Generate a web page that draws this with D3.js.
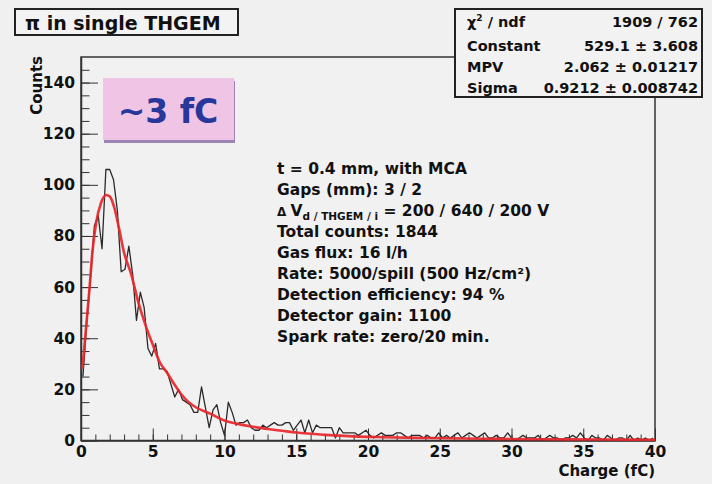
<!DOCTYPE html>
<html>
<head>
<meta charset="utf-8">
<script src="https://cdn.jsdelivr.net/npm/d3@7"></script>
<style>
  body { margin: 0; background: #f0f0f0; }
  text { font-family: "DejaVu Sans", sans-serif; font-weight: bold; fill: #111; }
</style>
</head>
<body>
<svg id="chart" width="712" height="484"></svg>
<script>
// histogram bin contents, 150 bins over 0..40 fC
const counts = [
  25, 46, 64, 84, 88, 75, 106, 106, 102, 90,
  66, 67, 76, 65, 47, 58, 52, 36, 33, 38,
  28, 28, 27, 22, 17, 20, 16, 15, 14, 11,
  11, 21, 13, 5, 12, 14, 7, 2, 15, 11,
  6, 7, 7, 8, 5, 4, 4, 6, 5, 6,
  7, 6, 6, 7, 7, 4, 6, 8, 3, 8,
  3, 6, 5, 5, 5, 5, 1, 5, 3, 3,
  3, 3, 2, 3, 4, 2, 1, 2, 3, 2,
  2, 2, 3, 3, 2, 1, 2, 2, 2, 1,
  2, 1, 1, 3, 1, 2, 1, 2, 3, 1,
  2, 3, 2, 1, 2, 3, 1, 1, 2, 1,
  1, 3, 1, 0, 1, 2, 1, 1, 1, 2,
  0, 1, 2, 1, 1, 0, 1, 1, 2, 1,
  3, 1, 0, 2, 1, 1, 0, 2, 1, 0,
  1, 1, 0, 2, 0, 1, 0, 1, 0, 1
];
const binRange = [0, 40];

// Landau fit curve
const fitX = [0.1, 0.35, 0.6, 0.8, 1.05, 1.4, 1.75, 2.0, 2.3, 2.65, 3.0, 3.5, 4.0, 4.5, 5.0, 5.5, 6.0, 6.5, 7.0, 7.5,
              8.0, 9.0, 10, 11, 12, 13, 14, 15, 17, 19, 21, 24, 28, 32, 36, 40];
const fitY = [28, 44, 60, 74, 85, 93, 96, 95.5, 91.5, 83, 73.5, 65, 54, 45, 37.5, 30.5, 26.5, 22, 18, 15,
              13, 10.5, 7.8, 6.4, 5.4, 4.5, 3.8, 3.1, 2.2, 1.6, 1.3, 1.0, 0.7, 0.5, 0.4, 0.3];

const xTicks = [0, 5, 10, 15, 20, 25, 30, 35, 40];
const yTicks = [0, 20, 40, 60, 80, 100, 120, 140];
const yMax = 150;

const statsLabels = ["Constant", "MPV", "Sigma"];
const statsValues = ["1909 / 762", "529.1 \u00b1 3.608", "2.062 \u00b1 0.01217", "0.9212 \u00b1 0.008742"];

const notes = [
  "t = 0.4 mm, with MCA",
  "Gaps (mm): 3 / 2",
  null, // delta V line, built with sub-script below
  "Total counts: 1844",
  "Gas flux: 16 l/h",
  "Rate: 5000/spill (500 Hz/cm\u00b2)",
  "Detection efficiency: 94 %",
  "Detector gain: 1100",
  "Spark rate: zero/20 min."
];

const W = 712, H = 484;
const frame = {left: 81, right: 655, top: 57, bottom: 440.5};

let svg = d3.select("#chart");

svg.append("rect").attr("x", 0).attr("y", 0).attr("width", W).attr("height", H).attr("fill", "#f0f0f0");

let x = d3.scaleLinear().domain(binRange).range([frame.left, frame.right]);
let y = d3.scaleLinear().domain([0, yMax]).range([frame.bottom, frame.top]);

// frame
svg.append("rect")
   .attr("x", frame.left).attr("y", frame.top)
   .attr("width", frame.right - frame.left).attr("height", frame.bottom - frame.top)
   .attr("fill", "#f1f1f1")
   .attr("stroke", "#333").attr("stroke-width", 1.5);

// x axis: minor then major ticks, drawn inside the frame
svg.append("g")
   .attr("transform", "translate(0," + frame.bottom + ")")
   .call(d3.axisBottom(x).tickValues(d3.range(0, 41, 1)).tickSizeInner(-6).tickSizeOuter(0).tickFormat(""))
   .call(g => g.select(".domain").remove())
   .selectAll("line").attr("stroke", "#333");

let xAxis = svg.append("g")
   .attr("transform", "translate(0," + frame.bottom + ")")
   .call(d3.axisBottom(x).tickValues(xTicks).tickSizeInner(-12).tickSizeOuter(0).tickPadding(5).tickFormat(d3.format("d")));
xAxis.select(".domain").attr("stroke", "#333").attr("stroke-width", 1.5);
xAxis.selectAll("line").attr("stroke", "#333");
xAxis.selectAll("text").attr("font-size", "15.5px").attr("fill", "#111")
     .style("font-family", "DejaVu Sans").style("font-weight", "bold");

// y axis
svg.append("g")
   .attr("transform", "translate(" + frame.left + ",0)")
   .call(d3.axisLeft(y).tickValues(d3.range(0, yMax, 5)).tickSizeInner(-8.5).tickSizeOuter(0).tickFormat(""))
   .call(g => g.select(".domain").remove())
   .selectAll("line").attr("stroke", "#333");

let yAxis = svg.append("g")
   .attr("transform", "translate(" + frame.left + ",0)")
   .call(d3.axisLeft(y).tickValues(yTicks).tickSizeInner(-17).tickSizeOuter(0).tickPadding(6).tickFormat(d3.format("d")));
yAxis.select(".domain").attr("stroke", "#333").attr("stroke-width", 1.5);
yAxis.selectAll("line").attr("stroke", "#333");
yAxis.selectAll("text").attr("font-size", "15.5px").attr("fill", "#111")
     .style("font-family", "DejaVu Sans").style("font-weight", "bold");

// axis titles
svg.append("text")
   .attr("transform", "translate(42," + (frame.top - 1) + ") rotate(-90)")
   .attr("text-anchor", "end")
   .attr("font-size", "15px")
   .text("Counts");

svg.append("text")
   .attr("x", frame.right).attr("y", 476)
   .attr("text-anchor", "end")
   .attr("font-size", "15px")
   .text("Charge (fC)");

// histogram as polyline through bin centres
let binW = (binRange[1] - binRange[0]) / counts.length;
let histLine = d3.line()
   .x((d, i) => x(binRange[0] + (i + 0.5) * binW))
   .y(d => y(d));

svg.append("path")
   .datum(counts)
   .attr("d", histLine)
   .attr("fill", "none")
   .attr("stroke", "#2b2b2b")
   .attr("stroke-width", 1.3)
   .attr("stroke-linejoin", "round");

// fit
let fitLine = d3.line()
   .x(d => x(d[0]))
   .y(d => y(d[1]))
   .curve(d3.curveMonotoneX);

svg.append("path")
   .datum(fitX.map((v, i) => [v, fitY[i]]))
   .attr("d", fitLine)
   .attr("fill", "none")
   .attr("stroke", "#e8262b")
   .attr("stroke-width", 2.6)
   .attr("stroke-opacity", 0.92);

// title box
svg.append("rect")
   .attr("x", 15).attr("y", 9).attr("width", 223).attr("height", 26)
   .attr("fill", "#f3f3f3").attr("stroke", "#222").attr("stroke-width", 2);
svg.append("text")
   .attr("x", 25).attr("y", 30)
   .attr("font-size", "19px")
   .text("\u03c0 in single THGEM");

// stats box
let stats = svg.append("g");
stats.append("rect")
   .attr("x", 455).attr("y", 9).attr("width", 247).attr("height", 88)
   .attr("fill", "#f2f2f2").attr("stroke", "#222").attr("stroke-width", 2);
let rowY = [27, 50.5, 72, 93];
let chi = stats.append("text").attr("x", 467).attr("y", rowY[0]).attr("font-size", "14.5px");
chi.append("tspan").text("\u03c7");
chi.append("tspan").attr("font-size", "9px").attr("dy", -6).text("2");
chi.append("tspan").attr("dy", 6).text(" / ndf");
statsLabels.forEach((s, i) => {
  stats.append("text").attr("x", 467).attr("y", rowY[i + 1]).attr("font-size", "14.5px").text(s);
});
statsValues.forEach((s, i) => {
  stats.append("text").attr("x", 698).attr("y", rowY[i]).attr("text-anchor", "end")
       .attr("font-size", "14.5px").text(s);
});

// ~3 fC label
svg.append("rect")
   .attr("x", 104).attr("y", 81).attr("width", 131).attr("height", 62)
   .attr("fill", "#9c84b4");
svg.append("rect")
   .attr("x", 103).attr("y", 78).attr("width", 131).attr("height", 62)
   .attr("fill", "#efc4e5");
svg.append("text")
   .attr("x", 168).attr("y", 123)
   .attr("text-anchor", "middle")
   .attr("font-size", "33px")
   .style("fill", "#27389a")
   .text("~3 fC");

// notes
let noteG = svg.append("g");
notes.forEach((s, i) => {
  let t = noteG.append("text")
     .attr("x", 277).attr("y", 174 + i * 21)
     .attr("font-size", "15.5px");
  if (s !== null) {
    t.text(s);
  } else {
    t.append("tspan").attr("font-size", "12px").text("\u0394 ");
    t.append("tspan").text("V");
    t.append("tspan").attr("font-size", "10.5px").attr("dy", 4).text("d / THGEM / i");
    t.append("tspan").attr("dy", -4).text(" = 200 / 640 / 200 V");
  }
});
</script>
</body>
</html>
